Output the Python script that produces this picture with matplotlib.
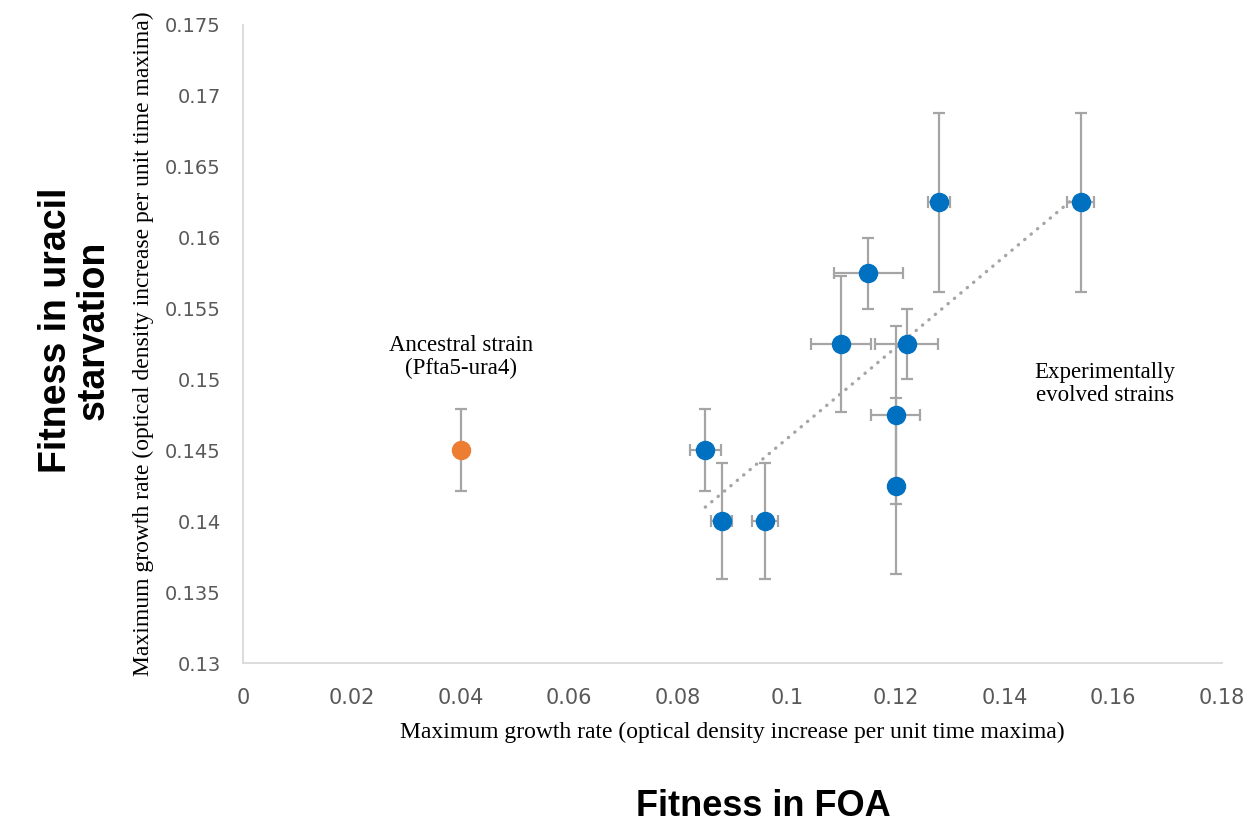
import matplotlib.pyplot as plt
import numpy as np

# evolved strains (blue)
evo_x = [0.085, 0.088, 0.096, 0.128, 0.115, 0.110, 0.122, 0.120, 0.120, 0.154]
evo_y = [0.145, 0.140, 0.140, 0.1625, 0.1575, 0.1525, 0.1525, 0.1475, 0.1425, 0.1625]
evo_xerr = [0.0029, 0.0019, 0.0024, 0.0020, 0.0064, 0.0055, 0.0058, 0.0045, 0.0, 0.0025]
evo_yerr = [0.0029, 0.0041, 0.0041, 0.0063, 0.0025, 0.0048, 0.0025, 0.0063, 0.0062, 0.0063]

# ancestral strain (orange)
anc_x = [0.040]
anc_y = [0.145]
anc_yerr = [0.0029]

x_ticks = [0, 0.02, 0.04, 0.06, 0.08, 0.1, 0.12, 0.14, 0.16, 0.18]
x_tick_labels = ['0', '0.02', '0.04', '0.06', '0.08', '0.1', '0.12', '0.14', '0.16', '0.18']
y_ticks = [0.13, 0.135, 0.14, 0.145, 0.15, 0.155, 0.16, 0.165, 0.17, 0.175]
y_tick_labels = ['0.13', '0.135', '0.14', '0.145', '0.15', '0.155', '0.16', '0.165', '0.17', '0.175']

axis_text = 'Maximum growth rate (optical density increase per unit time maxima)'

BLUE = '#0070C0'
ORANGE = '#ED7D31'
GREY = '#A5A5A5'

fig = plt.figure(figsize=(12.45, 8.22), dpi=100)
ax = fig.add_axes([0.1952, 0.1934, 0.7863, 0.7762])

ax.errorbar(evo_x, evo_y, xerr=evo_xerr, yerr=evo_yerr, fmt='none',
            ecolor=GREY, elinewidth=1.6, capsize=4.5, capthick=1.6, zorder=2)
ax.errorbar(anc_x, anc_y, yerr=anc_yerr, fmt='none',
            ecolor=GREY, elinewidth=1.6, capsize=4.5, capthick=1.6, zorder=2)

# linear trendline through evolved strains
k, b = np.polyfit(evo_x, evo_y, 1)
tx = np.array([min(evo_x), max(evo_x)])
ax.plot(tx, k * tx + b, color=GREY, lw=2.4, linestyle=(0, (0.1, 2.4)),
        dash_capstyle='round', zorder=3)

ax.plot(evo_x, evo_y, 'o', color=BLUE, markersize=13, zorder=4)
ax.plot(anc_x, anc_y, 'o', color=ORANGE, markersize=13, zorder=4)

ax.set_xlim(0, 0.18)
ax.set_ylim(0.13, 0.175)
ax.set_xticks(x_ticks)
ax.set_xticklabels(x_tick_labels, fontsize=15, color='#595959', family='DejaVu Sans')
ax.set_yticks(y_ticks)
ax.set_yticklabels(y_tick_labels, fontsize=14, color='#595959', family='DejaVu Sans')
ax.tick_params(axis='x', length=0, pad=18)
ax.tick_params(axis='y', length=0, pad=16)

for s in ['top', 'right']:
    ax.spines[s].set_visible(False)
for s in ['left', 'bottom']:
    ax.spines[s].set_color('#D9D9D9')
    ax.spines[s].set_linewidth(1.3)

ax.set_xlabel(axis_text, family='Liberation Serif', fontsize=17, labelpad=10)
ax.set_ylabel(axis_text, family='Liberation Serif', fontsize=17, labelpad=8)

ax.text(0.040, 0.1516, 'Ancestral strain\n(Pfta5-ura4)', family='Liberation Serif',
        fontsize=16.5, ha='center', va='center', linespacing=1.12)
ax.text(0.1585, 0.1497, 'Experimentally\nevolved strains', family='Liberation Serif',
        fontsize=16.5, ha='center', va='center', linespacing=1.12)

fig.text(763 / 1245, 1 - 816 / 822, 'Fitness in FOA', family='Liberation Sans',
         fontweight='bold', fontsize=26, ha='center', va='baseline')
fig.text(75 / 1245, 1 - 330 / 822, 'Fitness in uracil\nstarvation', family='Liberation Sans',
         fontweight='bold', fontsize=27, ha='center', va='center', rotation=90,
         linespacing=1.05)

fig.savefig('out.png', dpi=100)
